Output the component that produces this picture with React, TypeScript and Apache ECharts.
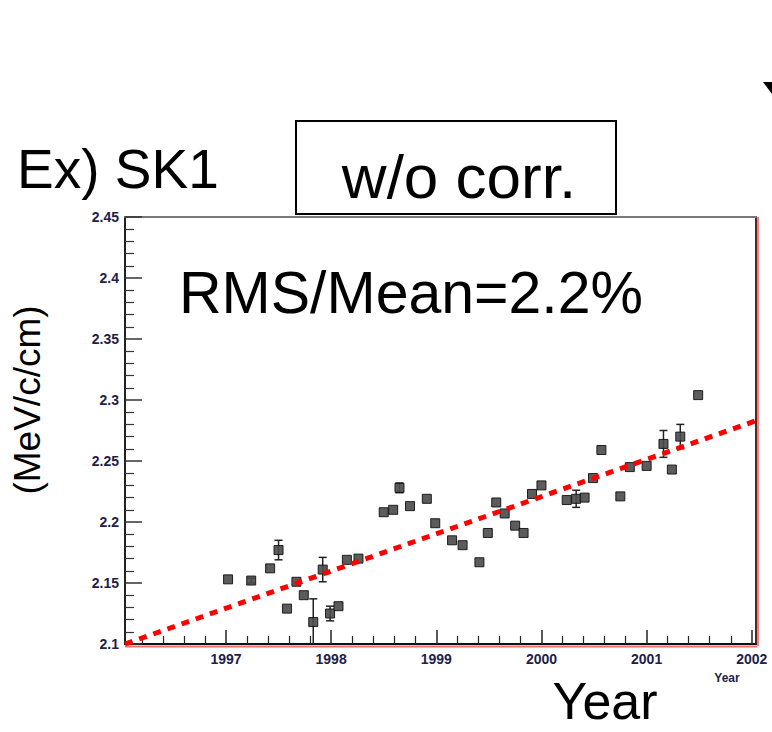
import React, { useEffect, useRef } from "react";
import * as echarts from "echarts";

// ---- data ----
const years = [
  1997.02, 1997.24, 1997.42, 1997.50, 1997.58, 1997.67, 1997.74, 1997.83, 1997.92, 1997.99,
  1998.07, 1998.15, 1998.26, 1998.50, 1998.59, 1998.65, 1998.75, 1998.91, 1998.99, 1999.15,
  1999.25, 1999.41, 1999.49, 1999.57, 1999.65, 1999.75, 1999.83, 1999.91, 2000.00, 2000.24,
  2000.33, 2000.41, 2000.49, 2000.57, 2000.75, 2000.84, 2001.00, 2001.16, 2001.24, 2001.32,
  2001.49,
];
const dEdx = [
  2.153, 2.152, 2.162, 2.177, 2.129, 2.151, 2.140, 2.118, 2.161, 2.125,
  2.131, 2.169, 2.170, 2.208, 2.210, 2.228, 2.213, 2.219, 2.199, 2.185,
  2.181, 2.167, 2.191, 2.216, 2.207, 2.197, 2.191, 2.223, 2.230, 2.218,
  2.219, 2.220, 2.236, 2.259, 2.221, 2.245, 2.246, 2.264, 2.243, 2.270,
  2.304,
];
const dEdxErr = [
  0, 0.002, 0, 0.008, 0, 0, 0, 0.019, 0.010, 0.006,
  0, 0, 0, 0, 0, 0.004, 0, 0, 0, 0,
  0, 0, 0, 0, 0, 0, 0, 0, 0, 0,
  0.007, 0, 0, 0, 0, 0, 0, 0.011, 0, 0.010,
  0,
];
const fitX = [1996.04, 2002.04];
const fitY = [2.1, 2.283];

const xMajorTicks = [1997, 1998, 1999, 2000, 2001, 2002];
const yMajorTicks = [2.1, 2.15, 2.2, 2.25, 2.3, 2.35, 2.4, 2.45];
const yTickLabels = ["2.1", "2.15", "2.2", "2.25", "2.3", "2.35", "2.4", "2.45"];

const X_MIN = 1996.04;
const X_MAX = 2002.04;
const Y_MIN = 2.1;
const Y_MAX = 2.45;

function minorTicks(start: number, end: number, step: number, majors: number[]) {
  const out: number[] = [];
  const n = Math.round((end - start) / step);
  for (let i = 0; i <= n; i++) {
    const v = +(start + i * step).toFixed(4);
    if (!majors.some((m) => Math.abs(m - v) < 1e-6)) out.push(v);
  }
  return out;
}
const xMinorTicks = minorTicks(1996.2, 2002.0, 0.2, xMajorTicks);
const yMinorTicks = minorTicks(2.11, 2.44, 0.01, yMajorTicks);

const FONT = "'Liberation Sans', Arial, Helvetica, sans-serif";
const LABEL_COLOR = "#1e1e4a";

export default function App() {
  const ref = useRef<HTMLDivElement>(null);
  useEffect(() => {
    if (!ref.current) return;
    const chart = echarts.init(ref.current, undefined, { renderer: "svg" });
    const points = years.map((x, i) => [x, dEdx[i]]);
    const errRows = years.map((x, i) => [x, dEdx[i], dEdxErr[i]]);
    const grid = { left: 125, top: 217, width: 631, height: 427 };

    chart.setOption({
      animation: false,
      backgroundColor: "#ffffff",
      grid,
      xAxis: [
        {
          type: "value", min: X_MIN, max: X_MAX, position: "bottom",
          axisLine: { show: true, lineStyle: { color: "#111", width: 2 } },
          axisTick: { show: true, inside: true, length: 14, customValues: xMajorTicks, lineStyle: { color: "#222", width: 1.5 } },
          axisLabel: {
            customValues: xMajorTicks, margin: 8, color: LABEL_COLOR,
            fontSize: 14, fontWeight: "bold", fontFamily: FONT,
            formatter: (v: number) => String(Math.round(v)),
          },
          splitLine: { show: false },
        },
        {
          type: "value", min: X_MIN, max: X_MAX, position: "bottom",
          axisLine: { show: false },
          axisTick: { show: true, inside: true, length: 8, customValues: xMinorTicks, lineStyle: { color: "#222", width: 1.2 } },
          axisLabel: { show: false },
          splitLine: { show: false },
        },
        {
          type: "value", min: X_MIN, max: X_MAX, position: "top",
          axisLine: { show: true, lineStyle: { color: "#777", width: 2 } },
          axisTick: { show: false }, axisLabel: { show: false }, splitLine: { show: false },
        },
      ],
      yAxis: [
        {
          type: "value", min: Y_MIN, max: Y_MAX, position: "left",
          axisLine: { show: true, lineStyle: { color: "#222", width: 2 } },
          axisTick: { show: true, inside: true, length: 17, customValues: yMajorTicks, lineStyle: { color: "#333", width: 1.5 } },
          axisLabel: {
            customValues: yMajorTicks, margin: 6, color: LABEL_COLOR,
            fontSize: 14, fontWeight: "bold", fontFamily: FONT,
            formatter: (v: number) => {
              const i = yMajorTicks.findIndex((m) => Math.abs(m - v) < 1e-6);
              return i >= 0 ? yTickLabels[i] : "";
            },
          },
          splitLine: { show: false },
        },
        {
          type: "value", min: Y_MIN, max: Y_MAX, position: "left",
          axisLine: { show: false },
          axisTick: { show: true, inside: true, length: 9, customValues: yMinorTicks, lineStyle: { color: "#333", width: 1.2 } },
          axisLabel: { show: false }, splitLine: { show: false },
        },
        {
          type: "value", min: Y_MIN, max: Y_MAX, position: "right",
          axisLine: { show: true, lineStyle: { color: "#5a2424", width: 2 } },
          axisTick: { show: false }, axisLabel: { show: false }, splitLine: { show: false },
        },
      ],
      series: [
        {
          type: "custom",
          xAxisIndex: 0, yAxisIndex: 0,
          data: errRows,
          clip: true,
          z: 3,
          renderItem: (params: any, api: any) => {
            const x = api.value(0), y = api.value(1), e = api.value(2);
            if (!e) return null;
            const top = api.coord([x, y + e]);
            const bot = api.coord([x, y - e]);
            const cap = 4;
            const st = { stroke: "#222", lineWidth: 1.5 };
            return {
              type: "group",
              children: [
                { type: "line", shape: { x1: top[0], y1: top[1], x2: bot[0], y2: bot[1] }, style: st },
                { type: "line", shape: { x1: top[0] - cap, y1: top[1], x2: top[0] + cap, y2: top[1] }, style: st },
                { type: "line", shape: { x1: bot[0] - cap, y1: bot[1], x2: bot[0] + cap, y2: bot[1] }, style: st },
              ],
            };
          },
        },
        {
          type: "scatter",
          xAxisIndex: 0, yAxisIndex: 0,
          data: points,
          symbol: "rect",
          symbolSize: 9,
          z: 4,
          itemStyle: { color: "#4a4a4a", borderColor: "#111", borderWidth: 1, opacity: 0.9 },
        },
        {
          type: "line",
          xAxisIndex: 0, yAxisIndex: 0,
          data: fitX.map((x, i) => [x, fitY[i]]),
          showSymbol: false,
          z: 6,
          lineStyle: { color: "#ff0000", width: 5, type: [8, 7] },
        },
      ],
      graphic: [
        { type: "line", shape: { x1: 125, y1: 646.5, x2: 757, y2: 646.5 }, style: { stroke: "#f07070", lineWidth: 2 }, z: 1 },
        { type: "line", shape: { x1: 758, y1: 217, x2: 758, y2: 646 }, style: { stroke: "#f08080", lineWidth: 2 }, z: 1 },
        { type: "text", left: 17, top: 141, style: { text: "Ex) SK1", fontSize: 55, fontFamily: FONT, fill: "#000" } },
        { type: "rect", shape: { x: 296, y: 121, width: 320, height: 93 }, style: { fill: "#fff", stroke: "#000", lineWidth: 2 }, z: 10 },
        { type: "text", x: 459, y: 176, style: { text: "w/o corr.", fontSize: 62, fontFamily: FONT, fill: "#000", align: "center", verticalAlign: "middle" }, z: 11 },
        { type: "text", x: 179, y: 293, style: { text: "RMS/Mean=2.2%", fontSize: 59, fontFamily: FONT, fill: "#000", align: "left", verticalAlign: "middle" }, z: 11 },
        { type: "text", x: 27, y: 400, rotation: Math.PI / 2, style: { text: "(MeV/c/cm)", fontSize: 37, fontFamily: FONT, fill: "#000", align: "center", verticalAlign: "middle" } },
        { type: "text", x: 727, y: 678, style: { text: "Year", fontSize: 12, fontWeight: "bold", fontFamily: FONT, fill: LABEL_COLOR, align: "center", verticalAlign: "middle" } },
        { type: "text", x: 605, y: 701, style: { text: "Year", fontSize: 52, fontFamily: FONT, fill: "#000", align: "center", verticalAlign: "middle" } },
        { type: "polygon", shape: { points: [[763, 82], [772, 82], [772, 94]] }, style: { fill: "#000" } },
      ],
    });
    return () => chart.dispose();
  }, []);
  return (
    <div
      ref={ref}
      style={{ position: "fixed", left: 0, top: 0, width: 772, height: 732, background: "#fff" }}
    />
  );
}
